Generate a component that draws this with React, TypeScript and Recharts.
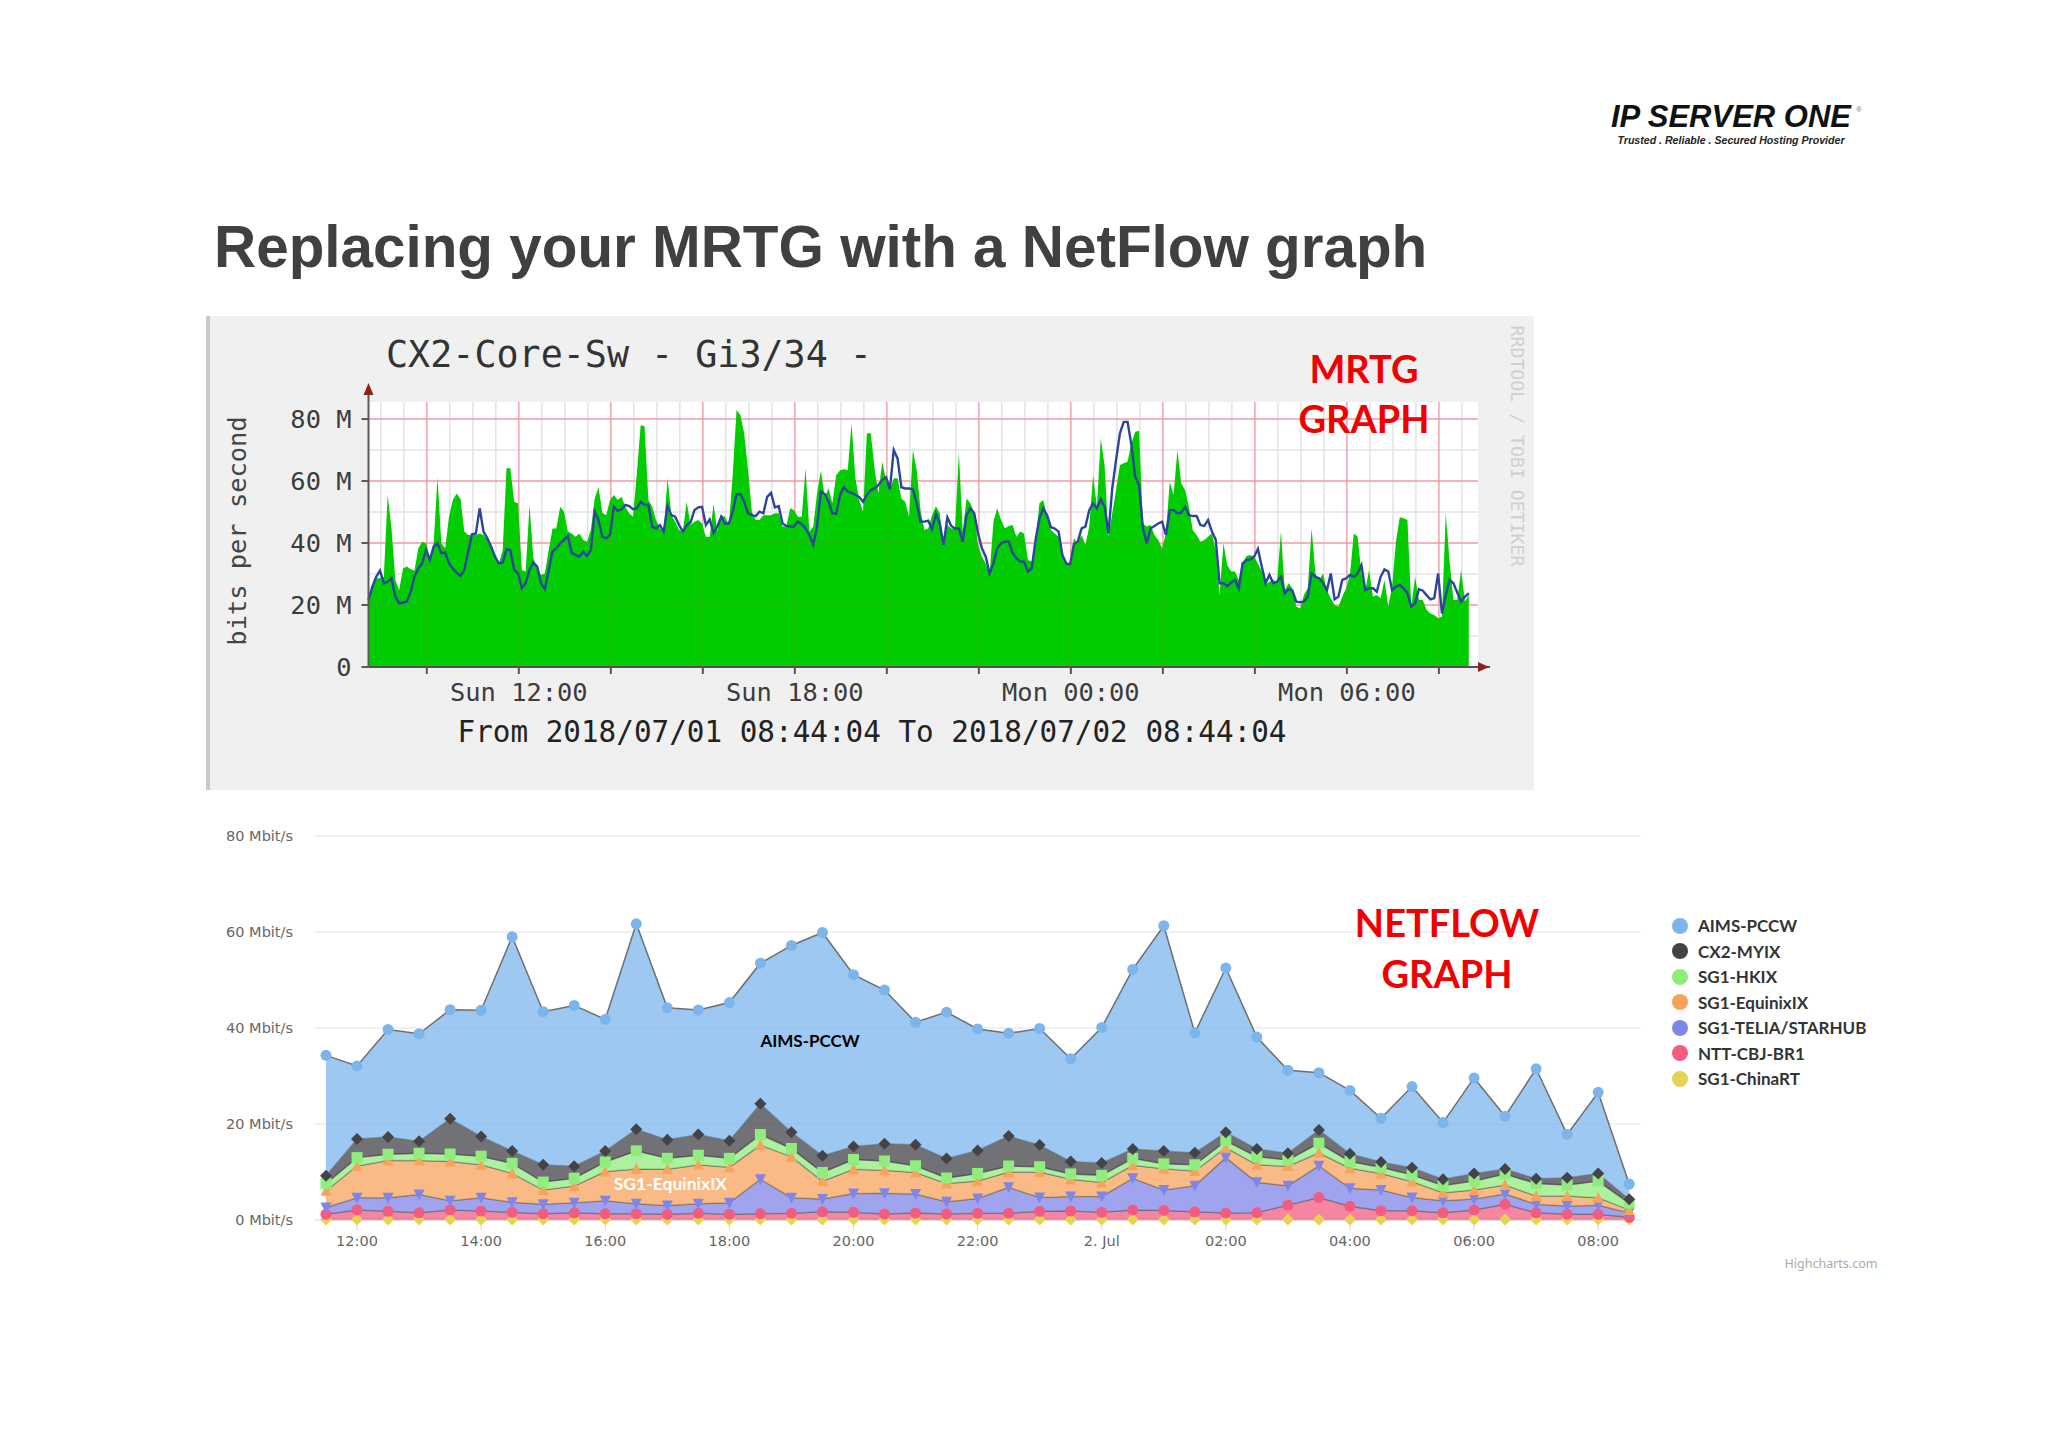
import {
  Area,
  AreaChart,
  CartesianGrid,
  ComposedChart,
  Legend,
  Line,
  ReferenceDot,
  ReferenceLine,
  XAxis,
  YAxis,
} from "recharts";

const MONO = "'DejaVu Sans Mono', monospace";

// MRTG graph, 5 minute samples from 08:44, Mbit/s
const mrtgIn = [
  21.6, 25.4, 28.6, 28.6, 29.1, 55.5, 44.7, 28.1, 24.8, 31.8, 32.4, 31.5, 31.1, 38.3, 40.4, 39.9, 35.6, 39.9, 61.2, 39.9,
  38.3, 48.5, 53.9, 56, 54.2, 43.7, 42.6, 42.6, 42.6, 43.1, 42.6, 41, 38.3, 36.1, 33.4, 37.7, 64.1, 64.1, 53.3, 52.8,
  31.3, 30.8, 52.3, 35.1, 31.8, 29.7, 30.2, 37.7, 44.7, 44.7, 51.7, 50.1, 43.7, 43.1, 42, 43.1, 41, 40.4, 44.2, 54.4,
  58, 49.8, 49, 53.9, 55.5, 53.9, 54.9, 51.7, 49.6, 48.5, 62.5, 78, 77.7,
  53.9, 51.7, 47.4, 44.7, 43.7, 60.9, 49, 46.9, 44.2, 43.7, 53.3, 45.8, 46.9, 47.4, 46.3, 42, 42, 52.6, 43.7, 49,
  48.5, 45.8, 61.9, 82.9, 81.3, 75.4, 63.5, 50.1, 47.4, 47.4, 49, 49, 49, 49.6, 49.6, 45.3, 45.3, 51.2, 50.6, 48.5,
  48.5, 64.1, 43.7, 45.3, 56, 63.3, 54.9, 57.6, 52.8, 61.9, 63.5, 63.8, 63.5, 78.6, 60.9, 53.9, 50.1, 75.4, 75.4, 64.1,
  56, 66.2, 60.3, 57.1, 60.9, 60.9, 54.4, 53.3, 48.5, 70, 63.5, 50.6, 44.2,
  44.7, 49, 51.9, 49.6, 39.9, 45.8, 44.7, 44.7, 69.1, 43.7, 54.4, 52.8, 49.6, 39.4, 35.6, 33.4, 29.7, 46.9, 51.2, 47.4,
  44.7, 45.5, 45.8, 42, 43.7, 43.1, 34.5, 34, 40.4, 52.8, 53.9, 48.5, 44.2, 43.1, 42, 35.6, 33.4, 32.9, 41.5, 39.9,
  42.6, 39.4, 45.3, 61.9, 51.7, 73.8, 65.2, 42, 49.6, 57.1, 65.2, 65.7, 66.2, 72.2, 75.9, 76.2, 46.3, 45.3, 45.8, 42.6,
  41, 38.3, 43.1, 59.8, 55.5, 70, 59.2, 57.1, 51.7, 44.2, 42.6, 40.4, 41,
  42, 43.1, 37.7, 23.2, 39.9, 32.9, 30.8, 30.8, 28.1, 33.4, 35.8, 36.1, 35.6, 33.4, 30.8, 26.5, 27.5, 28.1, 27.5, 43.7,
  24.8, 27, 25.4, 19.5, 18.9, 23.2, 25.4, 44.7, 30.2, 28.1, 30.2, 24.8, 22.2, 20, 19.5, 22.7, 25.4, 29.7, 43.1, 42,
  30.2, 24.8, 31.3, 22.7, 23.2, 22.2, 28.1, 19.5, 25.9, 40.4, 48.3, 48, 47.4, 19.5, 29.1, 21.6, 21.6, 18.4, 17.3, 16.8,
  15.7, 16.2, 49.6, 34, 21.6, 21.6, 31.3, 21.1, 23.2,
];
const mrtgOut = [
  21.6, 25.9, 29.1, 31.1, 27, 27.5, 28.6, 22.7, 20.5, 20.8, 21.1, 24.3, 29.1, 31.8, 33.4, 37.7, 34.5, 38.8, 39.9, 36.7,
  36.9, 33.4, 31.8, 30.4, 29.4, 31.3, 37.2, 42.8, 43.1, 51.2, 43.7, 41.5, 38.8, 35.6, 33.4, 33.7, 38, 37.7, 31.3, 30.2,
  25.4, 27, 31.3, 33.7, 32.4, 27, 25.1, 31.3, 37.2, 38.3, 39.9, 41, 42.3, 36.9, 36.1, 35.6, 37.2, 35.8, 37.7, 50.1,
  47.4, 42, 41.5, 42.6, 51.7, 50.4, 50.9, 52.3, 51.9, 50.9, 51.2, 53.3, 52.3,
  52.3, 45.3, 44.7, 45.8, 43.7, 51.9, 49, 48.5, 45.8, 43.7, 45.8, 46.6, 50.6, 51.5, 51.7, 45.8, 47.6, 43.3, 45.3, 48.5,
  46.3, 46.3, 50.1, 55.7, 55.8, 53.3, 49.6, 49, 48.7, 50.1, 49.6, 54.9, 56.2, 51.5, 51.9, 46.3, 45.5, 45.3, 45.3, 46.9,
  46.1, 44.7, 42.6, 39.4, 45.3, 56.6, 55.8, 53.3, 49.6, 49.4, 55.5, 58, 56.6, 56.2, 55.5, 54.9, 53.3, 55.5, 57.1, 57.6,
  58.7, 60.3, 61.2, 57.3, 70, 67.3, 58, 57.6, 57.6, 57.3, 52.8, 46.9, 46.9,
  47.2, 44.4, 49.4, 46.3, 39.4, 48.3, 45.5, 44.7, 44.7, 40.4, 49, 51.2, 49.6, 43.1, 38.3, 35.6, 30.2, 33.4, 38.3, 39.9,
  40.4, 40.4, 36.9, 35.1, 34, 34, 30.8, 31.8, 41, 48, 51.2, 49, 45.1, 44.7, 43.7, 36.1, 33.4, 33.1, 39.7, 40.4,
  44.7, 45.3, 50.6, 52.8, 51.2, 54.1, 51.7, 43.1, 57.6, 66.8, 75.4, 79.1, 79.1, 71.6, 61.4, 58.7, 44.7, 39.9, 44.7, 45.5,
  46.3, 46.9, 42.6, 50.6, 50.6, 49.6, 49.8, 51.7, 49, 48.7, 48.7, 45.8, 45.5,
  47.4, 43.7, 41, 27, 27, 26.1, 27.2, 28.1, 25.4, 33.4, 34.5, 34.7, 35.6, 38.1, 32.4, 27, 29.7, 27, 27.5, 29.1,
  23.8, 25.1, 24.6, 21.1, 20.9, 21.1, 22.7, 30.2, 29.1, 28.6, 27, 24.8, 30.2, 21.8, 22.7, 28.1, 28.6, 29.7, 29.1, 30.2,
  32.9, 24.8, 25.4, 25.4, 24.3, 29.1, 31.5, 30.8, 24.8, 25.9, 26.5, 25.4, 23.8, 19.5, 20.5, 25.1, 24.6, 23.2, 21.8, 22.2,
  30.2, 17.3, 23.2, 28.1, 27, 24, 21.1, 22.7, 23.8,
];
const mrtgStartHour = 8.733;
const mrtgYTicks = [0, 20, 40, 60, 80];
const mrtgXTicks = [10, 12, 14, 16, 18, 20, 22, 24, 26, 28, 30, 32];
const mrtgXLabels: Record<number, string> = {
  12: "Sun 12:00",
  18: "Sun 18:00",
  24: "Mon 00:00",
  30: "Mon 06:00",
};
const mrtgMinorY = [10, 30, 50, 70];
const mrtgMinorX = [
  9, 9.5, 10.5, 11, 11.5, 12.5, 13, 13.5, 14.5, 15, 15.5, 16.5, 17, 17.5, 18.5, 19, 19.5, 20.5, 21, 21.5, 22.5, 23, 23.5,
  24.5, 25, 25.5, 26.5, 27, 27.5, 28.5, 29, 29.5, 30.5, 31, 31.5, 32.5,
];

const mrtgRows = mrtgIn.map((v, i) => ({
  t: mrtgStartHour + (i * 5) / 60,
  in: v,
  out: mrtgOut[i],
}));

// NetFlow graph, 30 minute samples from 11:30, Mbit/s
const flowStartHour = 11.5;
const aimsPccw = [
  25.1, 15.2, 22.4, 22.4, 22.7, 26.3, 44.6, 31.9, 33.5, 27.4, 42.8, 27.5, 25.95, 28.8, 29.3, 38.9, 46.5, 35.8, 32, 25.5,
  30.5, 25.3, 21.4, 24.3, 21.4, 28.2, 37.4, 46.9, 25, 34.2, 23.3, 17.3, 11.95, 13.2, 9.1, 16.9, 11.8, 19.9, 11, 22.9, 9,
  16.9, 3.2,
];
const cx2Myix = [
  1.6, 3.9, 3.6, 2.5, 7.35, 4.1, 2.6, 3.6, 2.5, 2.3, 4.5, 3.85, 4.3, 3.65, 6.4, 3.4, 3.5, 2.7, 3.6, 4.4, 4.05, 4.8, 6.25,
  4.5, 2.6, 2.6, 1.95, 2.7, 2.5, 1.8, 1.6, 1.4, 2.75, 1.6, 1.1, 1.5, 1.3, 1.6, 1, 1, 1.5, 1.6, 0.8,
];
const sg1Hkix = [
  1.5, 1.75, 1.3, 1.5, 1.55, 1.8, 2.1, 1.65, 1.6, 2, 3.8, 2.3, 2, 1.85, 2.2, 1.7, 1.8, 2.05, 1.95, 1.4, 1.15, 1.6, 1.25,
  1.1, 1.1, 1.5, 1.45, 1, 1.3, 1.4, 1.7, 1.3, 2, 1.4, 1.3, 1.4, 1.5, 1.85, 2.3, 2.6, 2.3, 3.45, 1.4,
];
const sg1Equinix = [
  3.5, 6.6, 7.75, 7.1, 8.2, 6.85, 6, 2.95, 3.5, 6.1, 7.2, 7.55, 8.1, 7.4, 7.1, 8.55, 3.7, 5.05, 4.8, 4.5, 3.8, 3.6, 3.2,
  5.3, 3.6, 2.9, 2.7, 4.45, 3.05, 2.1, 3.65, 4.05, 2.7, 4.2, 3.45, 3.3, 1.7, 1.85, 1.9, 1.7, 2.1, 1.6, 0.6,
];
const sg1Telia = [
  1.4, 2.55, 2.85, 3.8, 1.9, 2.75, 2.1, 2, 2.1, 2.7, 2.1, 1.8, 2, 2.4, 7.2, 3.25, 2.7, 3.9, 4.3, 3.95, 2.55, 3.1, 5.4,
  2.9, 3, 3.3, 6.6, 4.25, 5.45, 11.55, 6.35, 4.05, 6.6, 3.75, 4.3, 2.75, 2.5, 2.3, 2.1, 1.8, 1.7, 1.85, 0.95,
];
const nttCbj = [
  1.1, 2, 1.7, 1.4, 2, 1.8, 1.5, 1.2, 1.4, 1.2, 1.2, 1.1, 1.3, 1.1, 1.2, 1.3, 1.6, 1.5, 1.15, 1.35, 1.15, 1.3, 1.3, 1.7,
  1.8, 1.5, 2, 1.9, 1.6, 1.35, 1.4, 3, 4.6, 2.75, 1.85, 1.85, 1.4, 2, 3.2, 1.4, 1.1, 1.1, 0.45,
];
const sg1China = aimsPccw.map(() => 0.1);

const flowRows = aimsPccw.map((_v, i) => ({
  t: flowStartHour + i * 0.5,
  "AIMS-PCCW": aimsPccw[i],
  "CX2-MYIX": cx2Myix[i],
  "SG1-HKIX": sg1Hkix[i],
  "SG1-EquinixIX": sg1Equinix[i],
  "SG1-TELIA/STARHUB": sg1Telia[i],
  "NTT-CBJ-BR1": nttCbj[i],
  "SG1-ChinaRT": sg1China[i],
}));

const flowSeries = [
  { name: "AIMS-PCCW", color: "#7cb5ec", symbol: "circle" },
  { name: "CX2-MYIX", color: "#434348", symbol: "diamond" },
  { name: "SG1-HKIX", color: "#90ed7d", symbol: "square" },
  { name: "SG1-EquinixIX", color: "#f7a35c", symbol: "triangle" },
  { name: "SG1-TELIA/STARHUB", color: "#8085e9", symbol: "triangle-down" },
  { name: "NTT-CBJ-BR1", color: "#f15c80", symbol: "circle" },
  { name: "SG1-ChinaRT", color: "#e4d354", symbol: "diamond" },
];
const flowYTicks = [0, 20, 40, 60, 80];
const flowXTicks = [12, 14, 16, 18, 20, 22, 24, 26, 28, 30, 32];
const flowXLabels: Record<number, string> = {
  12: "12:00",
  14: "14:00",
  16: "16:00",
  18: "18:00",
  20: "20:00",
  22: "22:00",
  24: "2. Jul",
  26: "02:00",
  28: "04:00",
  30: "06:00",
  32: "08:00",
};

function Note({ x, y, size, color, font, weight, rotate, italic, children }: any) {
  return (
    <div
      style={{
        position: "absolute",
        left: x,
        top: y,
        transform: `translate(-50%, -50%) rotate(${rotate || 0}deg)`,
        fontFamily: font,
        fontSize: size,
        fontWeight: weight || 400,
        fontStyle: italic ? "italic" : "normal",
        color,
        whiteSpace: "pre",
        lineHeight: 1,
      }}
    >
      {children}
    </div>
  );
}

function flowDot(symbol: string, color: string) {
  return (p: any) => {
    const { cx, cy, index } = p;
    if (cx == null || cy == null) return <g key={index} />;
    if (symbol === "diamond")
      return <path key={index} d={`M${cx} ${cy - 6}L${cx + 6} ${cy}L${cx} ${cy + 6}L${cx - 6} ${cy}Z`} fill={color} />;
    if (symbol === "square") return <rect key={index} x={cx - 5.5} y={cy - 5.5} width={11} height={11} fill={color} />;
    if (symbol === "triangle")
      return <path key={index} d={`M${cx} ${cy - 6}L${cx + 5.5} ${cy + 5}L${cx - 5.5} ${cy + 5}Z`} fill={color} />;
    if (symbol === "triangle-down")
      return <path key={index} d={`M${cx} ${cy + 6}L${cx + 5.5} ${cy - 5}L${cx - 5.5} ${cy - 5}Z`} fill={color} />;
    return <circle key={index} cx={cx} cy={cy} r={5.5} fill={color} />;
  };
}

function FlowLegend() {
  return (
    <div>
      {flowSeries.map((s) => (
        <div key={s.name} style={{ display: "flex", alignItems: "center", height: 25.5 }}>
          <span
            style={{
              width: 16,
              height: 16,
              borderRadius: 8,
              background: s.color,
              marginRight: 10,
              flex: "none",
            }}
          />
          <span style={{ fontFamily: "Lato", fontWeight: 700, fontSize: 17, color: "#333" }}>{s.name}</span>
        </div>
      ))}
    </div>
  );
}

function MrtgChart() {
  return (
    <div style={{ position: "absolute", left: 206, top: 316, width: 1328, height: 474, background: "#f0f0f0" }}>
      <div style={{ position: "absolute", left: 0, top: 0, width: 4, height: 474, background: "#c9c9c9" }} />
      <ComposedChart width={1328} height={473} data={mrtgRows} margin={{ top: 86, right: 56, bottom: 0, left: 0 }}>
        <CartesianGrid fill="#fff" stroke="#e2e2e8" strokeWidth={1.5} horizontalValues={mrtgMinorY} verticalValues={mrtgMinorX} />
        <CartesianGrid stroke="#f3b2b9" strokeWidth={1.5} horizontalValues={mrtgYTicks} verticalValues={mrtgXTicks} />
        <XAxis
          dataKey="t"
          type="number"
          domain={[mrtgStartHour, 32.85]}
          ticks={mrtgXTicks}
          interval={0}
          height={122}
          tickSize={7}
          tickMargin={9}
          stroke="#5a5050"
          strokeWidth={2}
          tick={{ fontFamily: MONO, fontSize: 25.4, fill: "#3c3c3c" }}
          tickFormatter={(v: number) => mrtgXLabels[v] || ""}
        />
        <YAxis
          type="number"
          domain={[0, 85.5]}
          ticks={mrtgYTicks}
          width={162.5}
          interval={0}
          tickSize={7}
          tickMargin={10}
          stroke="#5a5a5a"
          strokeWidth={2}
          tick={{ fontFamily: MONO, fontSize: 25.4, fill: "#3c3c3c" }}
          tickFormatter={(v: number) => (v === 0 ? "0" : `${v} M`)}
        />
        <Area dataKey="in" type="linear" fill="#00cc00" fillOpacity={1} stroke="none" isAnimationActive={false} />
        <Line dataKey="out" type="linear" stroke="#2a459e" strokeWidth={2.4} dot={false} isAnimationActive={false} />
        {mrtgYTicks.slice(1).map((v) => (
          <ReferenceLine key={v} y={v} stroke="#f05060" strokeOpacity={0.18} strokeWidth={1.5} />
        ))}
        {mrtgXTicks.map((v) => (
          <ReferenceLine key={v} x={v} stroke="#f05060" strokeOpacity={0.12} strokeWidth={1.5} />
        ))}
      </ComposedChart>
      <svg width={1328} height={473} style={{ position: "absolute", left: 0, top: 0 }}>
        <path d="M162.5 70V86" stroke="#5a5a5a" strokeWidth={2} />
        <path d="M162.5 67L157.5 79L167.5 79Z" fill="#8c2020" />
        <path d="M1272 351H1284" stroke="#5a5050" strokeWidth={2} />
        <path d="M1283 351L1272 346L1272 356Z" fill="#8c2020" />
      </svg>
    </div>
  );
}

function FlowChart() {
  return (
    <div style={{ position: "absolute", left: 206, top: 810 }}>
      <AreaChart width={1694} height={470} data={flowRows} margin={{ top: 26, right: 31, bottom: 0, left: 0 }}>
        <CartesianGrid stroke="#ececec" strokeWidth={1.5} vertical={false} />
        <XAxis
          dataKey="t"
          type="number"
          domain={[11.323, 32.69]}
          ticks={flowXTicks}
          interval={0}
          height={60}
          tickSize={10}
          tickMargin={6}
          stroke="#e6e6e6"
          tickLine={{ stroke: "#ccd6eb" }}
          tick={{ fontFamily: "'DejaVu Sans'", fontSize: 14.5, fill: "#666" }}
          tickFormatter={(v: number) => flowXLabels[v]}
        />
        <YAxis
          type="number"
          domain={[0, 80]}
          ticks={flowYTicks}
          width={109}
          interval={0}
          axisLine={false}
          tickLine={false}
          tickSize={0}
          tickMargin={22}
          tick={{ fontFamily: "'DejaVu Sans'", fontSize: 14.5, fill: "#666" }}
          tickFormatter={(v: number) => `${v} Mbit/s`}
        />
        <Legend
          layout="vertical"
          align="right"
          verticalAlign="top"
          wrapperStyle={{ left: 1466, right: "auto", top: 103, width: 228 }}
          content={() => <FlowLegend />}
        />
        {[...flowSeries].reverse().map((s) => (
          <Area
            key={s.name}
            dataKey={s.name}
            stackId="flow"
            type="linear"
            fill={s.color}
            fillOpacity={0.75}
            stroke="#6e6e6e"
            strokeWidth={1.5}
            dot={flowDot(s.symbol, s.color)}
            isAnimationActive={false}
          />
        ))}
        <ReferenceDot
          x={19.3}
          y={37.3}
          r={0}
          stroke="none"
          label={{ value: "AIMS-PCCW", position: "center", fill: "#000", fontFamily: "Lato", fontWeight: 700, fontSize: 17 }}
        />
        <ReferenceDot
          x={17.05}
          y={7.5}
          r={0}
          stroke="none"
          label={{ value: "SG1-EquinixIX", position: "center", fill: "#fff", fontFamily: "Lato", fontWeight: 700, fontSize: 17.5 }}
        />
      </AreaChart>
    </div>
  );
}

export default function App() {
  return (
    <div style={{ position: "fixed", left: 0, top: 0, width: 2048, height: 1447, background: "#fff", overflow: "hidden" }}>
      <div
        style={{
          position: "absolute",
          left: 214,
          top: 247,
          transform: "translateY(-50%)",
          fontFamily: "'Liberation Sans'",
          fontWeight: 700,
          fontSize: 58.4,
          color: "#404040",
          whiteSpace: "pre",
          lineHeight: 1,
        }}
      >
        Replacing your MRTG with a NetFlow graph
      </div>

      <Note x={1731} y={116} size={31} color="#111" font="'Liberation Sans'" weight={700} italic>
        IP SERVER ONE
      </Note>
      <Note x={1731} y={140} size={10.6} color="#222" font="'Liberation Sans'" weight={700} italic>
        Trusted . Reliable . Secured Hosting Provider
      </Note>
      <Note x={1859} y={110} size={8} color="#777" font="'Liberation Sans'">
        ®
      </Note>

      <MrtgChart />
      <Note x={629} y={355} size={36.7} color="#333" font={MONO}>
        CX2-Core-Sw - Gi3/34 -
      </Note>
      <Note x={238} y={531} size={25.4} color="#444" font={MONO} rotate={-90}>
        bits per second
      </Note>
      <Note x={872} y={733} size={29.3} color="#222" font={MONO}>
        From 2018/07/01 08:44:04 To 2018/07/02 08:44:04
      </Note>
      <Note x={1517} y={446} size={18.2} color="#cfcfcf" font={MONO} rotate={90}>
        RRDTOOL / TOBI OETIKER
      </Note>
      <Note x={1364} y={368} size={38} color="#f00000" font="Lato" weight={700}>
        MRTG
      </Note>
      <Note x={1364} y={418} size={38} color="#f00000" font="Lato" weight={700}>
        GRAPH
      </Note>

      <FlowChart />
      <Note x={1447} y={922} size={38} color="#f00000" font="Lato" weight={700}>
        NETFLOW
      </Note>
      <Note x={1447} y={973} size={38} color="#f00000" font="Lato" weight={700}>
        GRAPH
      </Note>
      <Note x={1831} y={1264} size={12.5} color="#aaa" font="'Noto Sans'">
        Highcharts.com
      </Note>
    </div>
  );
}
